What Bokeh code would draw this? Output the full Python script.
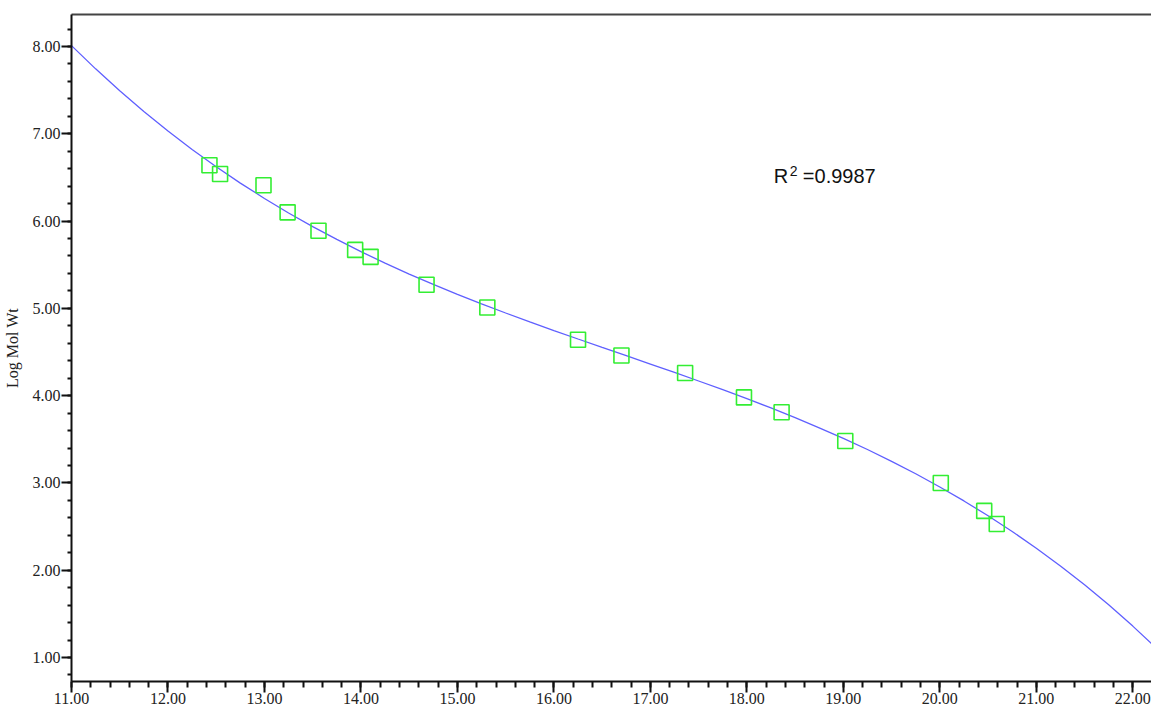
from bokeh.plotting import figure
from bokeh.models import (Range1d, SingleIntervalTicker, NumeralTickFormatter,
                          LinearAxis, FixedTicker, Label)
from bokeh.embed import file_html
from bokeh.resources import INLINE

# ---- data ----
point_x = [12.43, 12.54, 12.99, 13.24, 13.56, 13.94, 14.10, 14.68, 15.31,
           16.25, 16.70, 17.36, 17.97, 18.36, 19.02, 20.01, 20.46, 20.59]
point_y = [6.64, 6.54, 6.41, 6.10, 5.89, 5.67, 5.59, 5.27, 5.01,
           4.64, 4.46, 4.26, 3.98, 3.81, 3.48, 3.00, 2.68, 2.53]

curve_x = [11.00, 11.25, 11.50, 11.75, 12.00, 12.25, 12.50, 12.75, 13.00,
           13.25, 13.50, 13.75, 14.00, 14.25, 14.50, 14.75, 15.00, 15.25,
           15.50, 15.75, 16.00, 16.25, 16.50, 16.75, 17.00, 17.25, 17.50,
           17.75, 18.00, 18.25, 18.50, 18.75, 19.00, 19.25, 19.50, 19.75,
           20.00, 20.25, 20.50, 20.75, 21.00, 21.25, 21.50, 21.75, 22.00,
           22.25]
curve_y = [8.010, 7.744, 7.492, 7.255, 7.031, 6.820, 6.622, 6.435, 6.259,
           6.093, 5.937, 5.790, 5.650, 5.518, 5.393, 5.274, 5.161, 5.052,
           4.947, 4.845, 4.746, 4.649, 4.553, 4.458, 4.362, 4.266, 4.168,
           4.068, 3.965, 3.859, 3.748, 3.632, 3.511, 3.383, 3.248, 3.105,
           2.954, 2.794, 2.624, 2.444, 2.252, 2.049, 1.833, 1.604, 1.360,
           1.103]

r2_text = "0.9987"
y_label = "Log Mol Wt"

# ---- layout ----
W, H = 1151, 710
left, right, top, bottom = 70, 0, 14, 29
fw, fh = W - left - right, H - top - bottom
px_per_x = 96.57
px_per_y = 87.29
x0 = 11.0
x1 = x0 + fw / px_per_x
y_top = 8.0 + 32 / px_per_y
y_bot = y_top - fh / px_per_y

p = figure(width=W, height=H, output_backend="svg", toolbar_location=None,
           x_range=Range1d(x0, x1), y_range=Range1d(y_bot, y_top),
           min_border_left=left, min_border_right=right,
           min_border_top=top, min_border_bottom=bottom,
           x_axis_type=None, y_axis_type=None)
p.grid.visible = False
p.outline_line_color = None
p.background_fill_color = "white"
p.border_fill_color = "white"

tick_font = "Liberation Serif"

xaxis = LinearAxis(ticker=SingleIntervalTicker(interval=1, num_minor_ticks=5),
                   formatter=NumeralTickFormatter(format="0.00"))
xaxis.axis_line_width = 2
xaxis.axis_line_color = "#111111"
xaxis.major_tick_line_width = 2
xaxis.minor_tick_line_width = 2
xaxis.major_tick_line_color = "#111111"
xaxis.minor_tick_line_color = "#111111"
xaxis.major_tick_out = 11
xaxis.major_tick_in = 0
xaxis.minor_tick_out = 6
xaxis.minor_tick_in = 0
xaxis.major_label_standoff = 0
xaxis.major_label_text_font = tick_font
xaxis.major_label_text_font_size = "16px"
xaxis.major_label_text_color = "#222222"
p.add_layout(xaxis, "below")

yaxis = LinearAxis(ticker=SingleIntervalTicker(interval=1, num_minor_ticks=5),
                   formatter=NumeralTickFormatter(format="0.00"),
                   axis_label=y_label)
yaxis.axis_line_width = 2
yaxis.axis_line_color = "#111111"
yaxis.major_tick_line_width = 2
yaxis.minor_tick_line_width = 2
yaxis.major_tick_line_color = "#111111"
yaxis.minor_tick_line_color = "#111111"
yaxis.major_tick_out = 10
yaxis.major_tick_in = 0
yaxis.minor_tick_out = 4
yaxis.minor_tick_in = 0
yaxis.major_label_standoff = 1
yaxis.major_label_text_font = tick_font
yaxis.major_label_text_font_size = "16px"
yaxis.major_label_text_color = "#222222"
yaxis.axis_label_text_font = tick_font
yaxis.axis_label_text_font_size = "16px"
yaxis.axis_label_text_font_style = "normal"
yaxis.axis_label_text_color = "#222222"
yaxis.axis_label_standoff = 9
p.add_layout(yaxis, "left")

topaxis = LinearAxis(ticker=FixedTicker(ticks=[]))
topaxis.axis_line_width = 2
topaxis.axis_line_color = "#444444"
topaxis.major_tick_out = 0
topaxis.minor_tick_out = 0
topaxis.major_label_text_font_size = "0px"
topaxis.major_label_standoff = 0
p.add_layout(topaxis, "above")

p.line(curve_x, curve_y, line_color="#5f5fff", line_width=1.3)
p.scatter(point_x, point_y, marker="square", size=15, fill_color=None,
          line_color="#33ee33", line_width=1.6)

def data_x(px):
    return x0 + (px - left) / px_per_x

def data_y(py):
    return 8.0 - (py - 46) / px_per_y

lab_font = "Liberation Sans"
p.add_layout(Label(x=data_x(773), y=data_y(175), text="R",
                   text_font=lab_font, text_font_size="20px",
                   text_color="#111111", text_baseline="alphabetic"))
p.add_layout(Label(x=data_x(789), y=data_y(170), text="2",
                   text_font=lab_font, text_font_size="14px",
                   text_color="#111111", text_baseline="alphabetic"))
p.add_layout(Label(x=data_x(802), y=data_y(175), text="=" + r2_text,
                   text_font=lab_font, text_font_size="20px",
                   text_color="#111111", text_baseline="alphabetic"))

open("out.html", "w").write(file_html(p, INLINE))
